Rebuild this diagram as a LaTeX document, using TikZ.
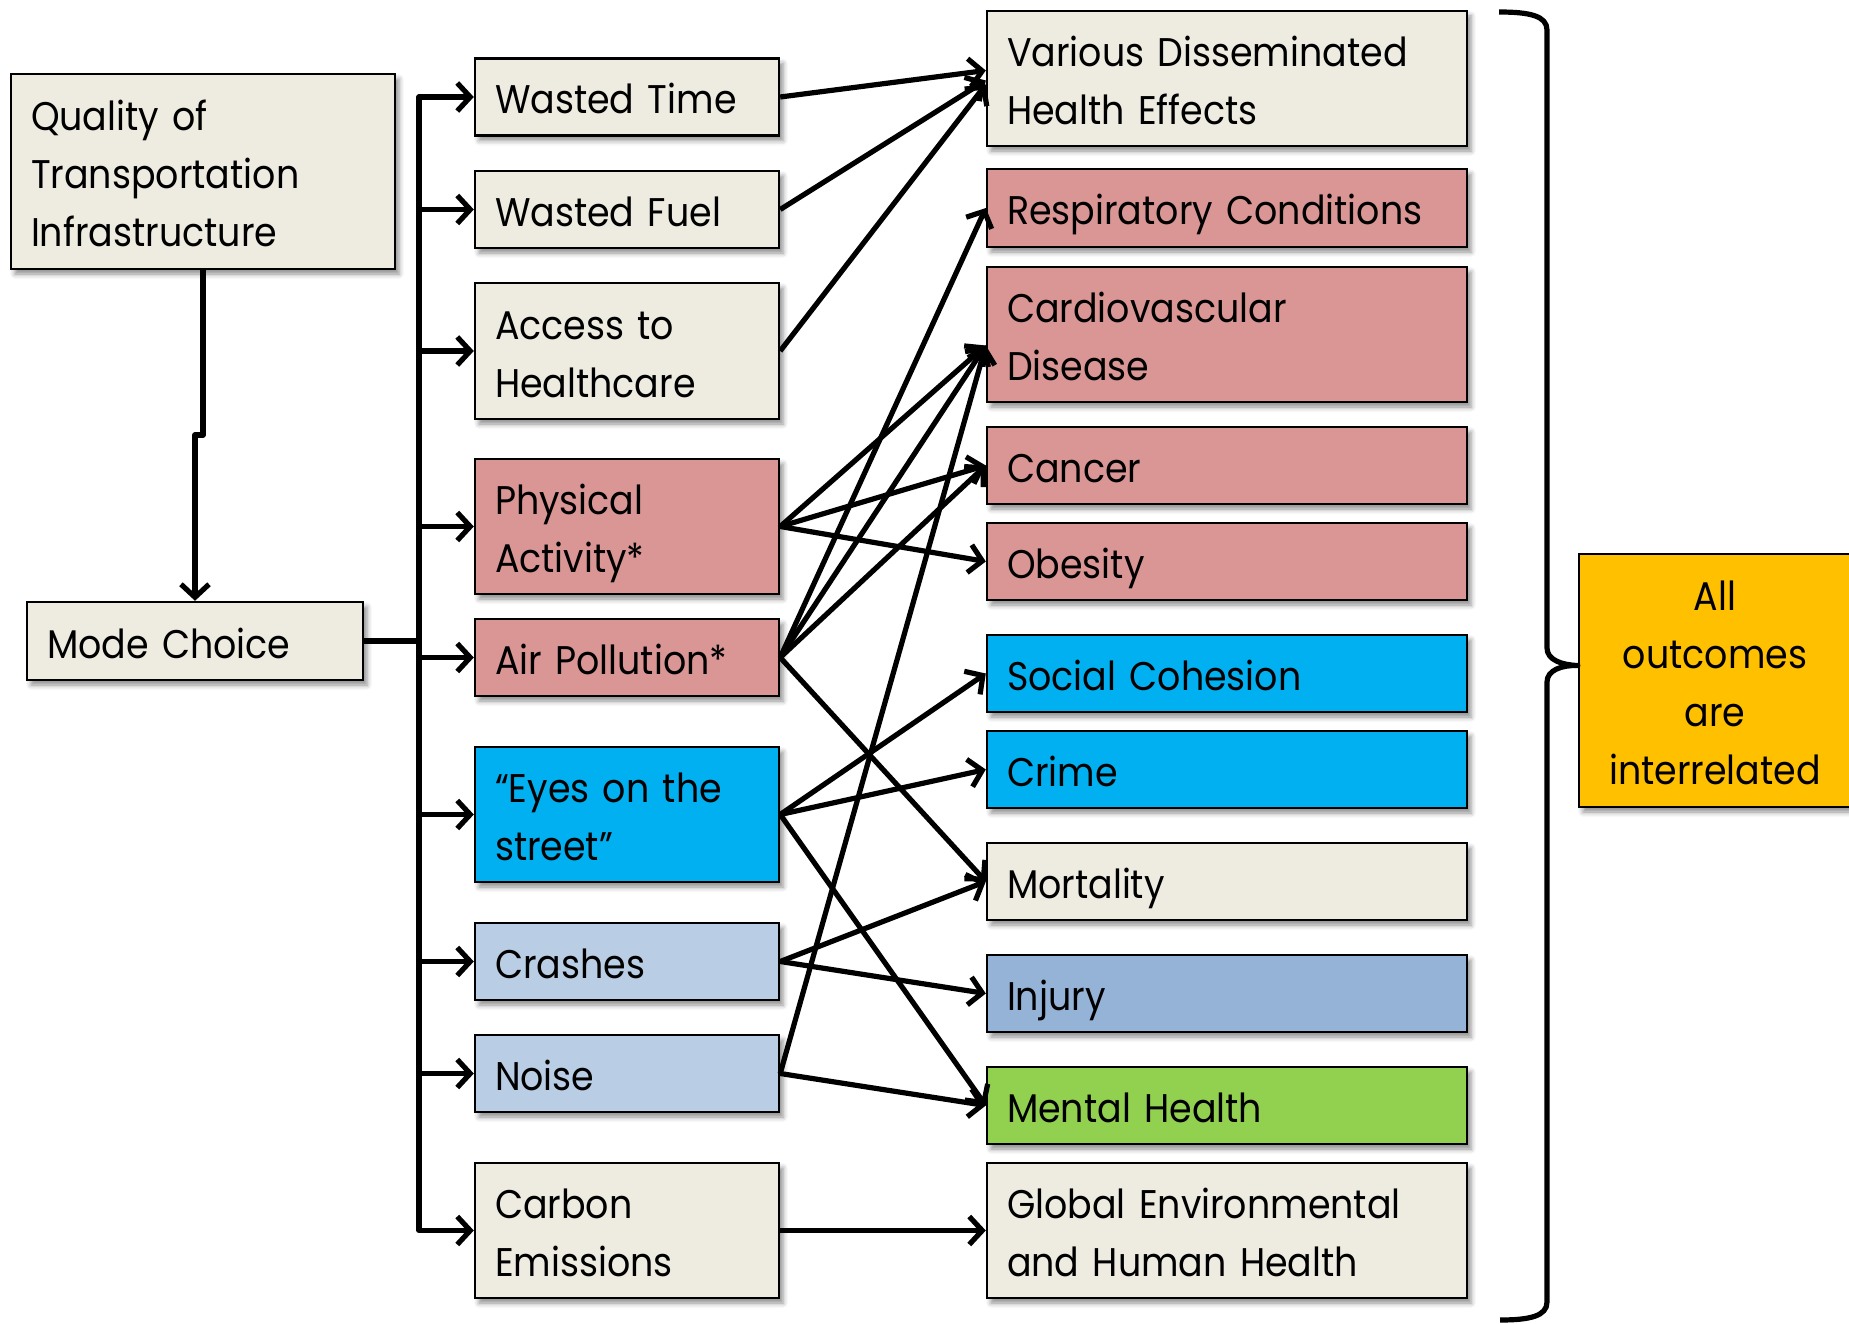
\documentclass[tikz,border=0pt]{standalone}
\usepackage{fontspec}
\setmainfont[FakeStretch=0.91]{Poppins}
\usetikzlibrary{arrows.meta,shadows.blur,calc}
\definecolor{beige}{HTML}{EEECE1}
\definecolor{pinkbox}{HTML}{D99694}
\definecolor{bluebox}{HTML}{00B0F0}
\definecolor{lblue}{HTML}{B9CDE5}
\definecolor{injblue}{HTML}{95B3D7}
\definecolor{greenbox}{HTML}{92D050}
\definecolor{goldbox}{HTML}{FFC000}
\tikzset{
  box/.style={draw=black, line width=2.4pt, rectangle, inner xsep=20pt, inner ysep=0pt,
    align=left, font=\fontsize{40}{58}\selectfont, text depth=0pt,
    execute at begin node={\hyphenpenalty=10000\exhyphenpenalty=10000\rule{0pt}{34pt}},
    blur shadow={shadow xshift=4pt, shadow yshift=-5pt, shadow opacity=45, shadow blur radius=5pt}},
  twolines/.style={text depth=58pt},
  threelines/.style={text depth=116pt},
  fourlines/.style={text depth=174pt},
  midbox/.style={box, minimum width=304pt, text width=264pt},
  rbox/.style={box, minimum width=480pt, text width=440pt},
  conn/.style={line width=5.2pt, line join=round},
  arr/.style={conn, -{Straight Barb[length=13pt,width=28pt]}},
}
\begin{document}
\begin{tikzpicture}[x=1pt,y=-1pt]
\useasboundingbox (0,0) rectangle (1849,1324);
% left
\node[box, threelines, fill=beige, minimum width=384pt, minimum height=195pt, text width=344pt] (qual) at (203,171.5) {Quality of\\Transportation\\Infrastructure};
\node[box, fill=beige, minimum width=336pt, minimum height=78pt, text width=296pt] (mode) at (195,641) {Mode Choice};
% middle
\node[midbox, fill=beige, minimum height=77pt] (wtime) at (627,97) {Wasted Time};
\node[midbox, fill=beige, minimum height=77pt] (wfuel) at (627,209.5) {Wasted Fuel};
\node[midbox, twolines, fill=beige, minimum height=136pt] (access) at (627,351) {Access to\\Healthcare};
\node[midbox, twolines, fill=pinkbox, minimum height=135pt] (phys) at (627,526.5) {Physical\\Activity*};
\node[midbox, fill=pinkbox, minimum height=77pt] (air) at (627,657.5) {Air Pollution*};
\node[midbox, twolines, fill=bluebox, minimum height=135pt] (eyes) at (627,814.5) {“Eyes on the\\street”};
\node[midbox, fill=lblue, minimum height=77pt] (crash) at (627,961.5) {Crashes};
\node[midbox, fill=lblue, minimum height=77pt] (noise) at (627,1073.5) {Noise};
\node[midbox, twolines, fill=beige, minimum height=135pt] (carbon) at (627,1230.5) {Carbon\\Emissions};
% right
\node[rbox, twolines, fill=beige, minimum height=135pt] (various) at (1227,78.5) {Various Disseminated\\Health Effects};
\node[rbox, fill=pinkbox, minimum height=78pt] (resp) at (1227,208) {Respiratory Conditions};
\node[rbox, twolines, fill=pinkbox, minimum height=135pt] (cardio) at (1227,334.5) {Cardiovascular\\Disease};
\node[rbox, fill=pinkbox, minimum height=77pt] (cancer) at (1227,465.5) {Cancer};
\node[rbox, fill=pinkbox, minimum height=77pt] (obesity) at (1227,561.5) {Obesity};
\node[rbox, fill=bluebox, minimum height=77pt] (social) at (1227,673.5) {Social Cohesion};
\node[rbox, fill=bluebox, minimum height=77pt] (crime) at (1227,769.5) {Crime};
\node[rbox, fill=beige, minimum height=77pt] (mort) at (1227,881.5) {Mortality};
\node[rbox, fill=injblue, minimum height=77pt] (injury) at (1227,993.5) {Injury};
\node[rbox, fill=greenbox, minimum height=77pt] (mental) at (1227,1105.5) {Mental Health};
\node[rbox, twolines, fill=beige, minimum height=135pt] (global) at (1227,1230.5) {Global Environmental\\and Human Health};
% all outcomes
\node[box, fourlines, fill=goldbox, align=center, minimum width=272pt, text width=232pt, minimum height=253pt] (all) at (1715,680.5) {All\\outcomes\\are\\interrelated};
% quality -> mode
\coordinate (jog) at (195,435);
\draw[arr] (qual.south) |- (jog) -- (mode.north);
% bus
\coordinate (bus) at (419,0);
\draw[conn] (mode.east) -- (mode.east -| bus);
\draw[arr] (carbon.west -| bus) -- (wtime.west -| bus) -- (wtime.west);
\draw[arr] (wtime.west -| bus) -- (carbon.west -| bus) -- (carbon.west);
\foreach \n in {wfuel,access,phys,air,eyes,crash,noise}
  \draw[arr] (\n.west -| bus) -- (\n.west);
% links
\draw[arr] (wtime.east) -- ($(various.west)+(0,-8)$);
\draw[arr] (wfuel.east) -- ($(various.west)+(0,2)$);
\draw[arr] (access.east) -- ($(various.west)+(0,6)$);
\coordinate (cv) at ($(cardio.west)+(0,11)$);
\draw[arr] (phys.east) -- (cv);
\draw[arr] (phys.east) -- (cancer.west);
\draw[arr] (phys.east) -- (obesity.west);
\draw[arr] (air.east) -- (resp.west);
\draw[arr] (air.east) -- (cv);
\draw[arr] (air.east) -- (cancer.west);
\draw[arr] (air.east) -- (mort.west);
\draw[arr] (eyes.east) -- (social.west);
\draw[arr] (eyes.east) -- (crime.west);
\draw[arr] (eyes.east) -- (mental.west);
\draw[arr] (crash.east) -- (mort.west);
\draw[arr] (crash.east) -- (injury.west);
\draw[arr] (noise.east) -- (cv);
\draw[arr] (noise.east) -- (mental.west);
\draw[arr] (carbon.east) -- (global.west);
% brace
\coordinate (btip) at ($(all.west)+(0,-15)$);
\draw[conn, line cap=butt] (1499,12) .. controls (1530,12) and (1547,16) .. (1547,30) -- (1547,648)
  .. controls (1547,660) and (1562,665) .. (btip)
  .. controls (1562,665) and (1547,670) .. (1547,682) -- (1547,1302)
  .. controls (1547,1316) and (1530,1320) .. (1500,1320);
\end{tikzpicture}
\end{document}
